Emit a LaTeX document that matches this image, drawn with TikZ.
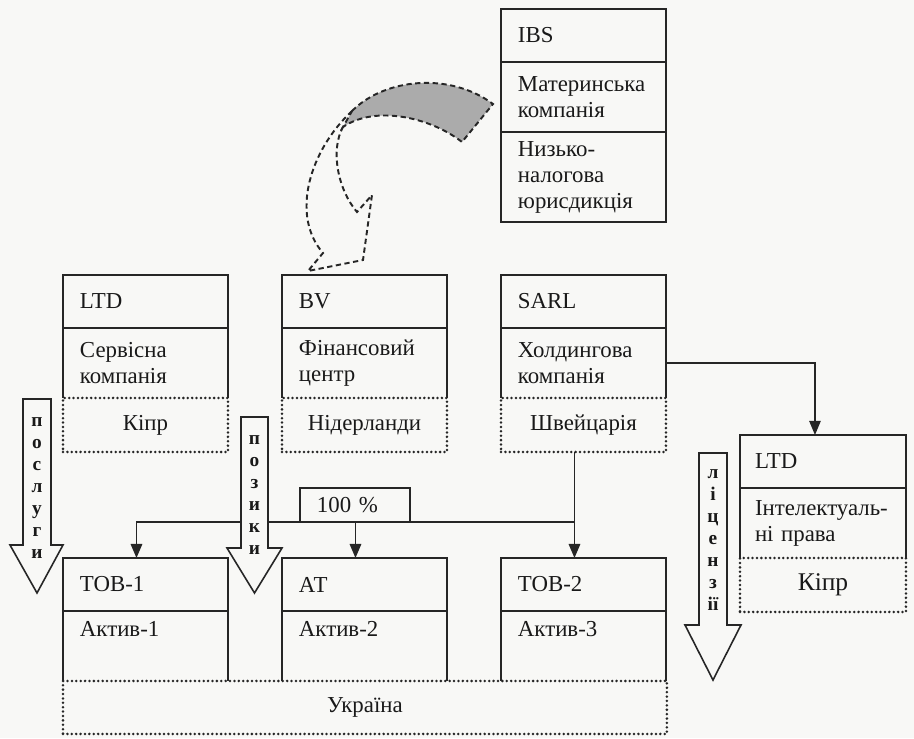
\documentclass[tikz,border=0pt]{standalone}
\usepackage{fontspec}
\setmainfont{Liberation Serif}
\usetikzlibrary{arrows.meta, positioning}
\definecolor{cline}{HTML}{262626}
\definecolor{cband}{HTML}{ababab}
\definecolor{cpaper}{HTML}{f8f8f6}

\begin{document}
\begin{tikzpicture}[
  x=0.02cm, y=-0.02cm,
  font=\fontsize{13}{14.8}\selectfont, text=black!90,
  >={Triangle[length=8pt, width=6.5pt]},
  frame/.style={draw=cline, line width=1pt},
  hdr/.style={frame, outer sep=0pt, inner xsep=0.34cm, text width=2.62cm,
              align=left, minimum height=1.06cm},
  mid/.style={outer sep=0pt, inner xsep=0.34cm, text width=2.62cm,
              align=left, minimum height=1.4cm},
  cty/.style={draw=cline, line width=1.6pt, line cap=round,
              dash pattern=on 0pt off 2.5pt, outer sep=0pt,
              minimum width=3.3cm, minimum height=1.08cm, align=center},
  arr/.style={->, draw=cline, line width=1.1pt},
  fat/.style={draw=cline, line width=0.9pt, fill=cpaper},
  letters/.style={font=\fontsize{11}{12.6}\selectfont\bfseries, align=center,
                  inner sep=0pt},
  swoosh/.style={draw=cline, line width=1.1pt, dash pattern=on 3pt off 2pt},
  ]
\fill[cpaper] (0,0) rectangle (914,738);
\useasboundingbox (0,0) rectangle (914,738);

% parent company
\node[hdr, anchor=north west] (ibsH) at (501,9) {IBS};
\node[mid, frame, below=0pt of ibsH] (ibsM) {Материнська\\компанія};
\node[mid, frame, minimum height=1.8cm, below=0pt of ibsM] (ibsJ) {Низько-\\налогова\\юрисдикція};

% foreign companies
\node[hdr, anchor=north west] (ltd1H) at (63,275) {LTD};
\node[mid, below=0pt of ltd1H] (ltd1M) {Сервісна\\компанія};
\node[cty, below=0pt of ltd1M] (ltd1C) {Кіпр};

\node[hdr, anchor=north west] (bvH) at (282,275) {BV};
\node[mid, below=0pt of bvH] (bvM) {Фінансовий\\центр};
\node[cty, below=0pt of bvM] (bvC) {Нідерланди};

\node[hdr, anchor=north west] (sarlH) at (501,275) {SARL};
\node[mid, below=0pt of sarlH] (sarlM) {Холдингова\\компанія};
\node[cty, below=0pt of sarlM] (sarlC) {Швейцарія};

\node[hdr, anchor=north west, text width=2.72cm, inner xsep=0.3cm] (ltd2H) at (740,435) {LTD};
\node[mid, text width=2.72cm, inner xsep=0.3cm, below=0pt of ltd2H] (ltd2M) {Інтелектуаль-\\ні права};
\node[cty, minimum width=3.32cm, font=\fontsize{14.5}{17}\selectfont, below=0pt of ltd2M] (ltd2C) {Кіпр};

% ukrainian companies
\node[hdr, anchor=north west] (tov1H) at (63,558) {ТОВ-1};
\node[mid, below=0pt of tov1H] (tov1M) {Актив-1\\\strut};

\node[hdr, anchor=north west] (atH) at (282,558) {АТ};
\node[mid, below=0pt of atH] (atM) {Актив-2\\\strut};

\node[hdr, anchor=north west] (tov2H) at (501,558) {ТОВ-2};
\node[mid, below=0pt of tov2H] (tov2M) {Актив-3\\\strut};

\node[cty, minimum width=12.08cm, minimum height=1.06cm, anchor=north west] (ukr) at (tov1M.south west) {Україна};

% side walls of the middle rows
\draw[frame] (ltd1M.south west) |- (ltd1M.north east) -- (ltd1M.south east);
\draw[frame] (bvM.south west) |- (bvM.north east) -- (bvM.south east);
\draw[frame] (sarlM.south west) |- (sarlM.north east) -- (sarlM.south east);
\draw[frame] (ltd2M.south west) |- (ltd2M.north east) -- (ltd2M.south east);
\draw[frame] (tov1M.south west) |- (tov1M.north east) -- (tov1M.south east);
\draw[frame] (atM.south west) |- (atM.north east) -- (atM.south east);
\draw[frame] (tov2M.south west) |- (tov2M.north east) -- (tov2M.south east);

% ownership
\node[frame, anchor=south west, outer sep=0pt, inner xsep=0.34cm, text width=1.52cm,
      align=left, minimum height=0.68cm] (pct) at (300,522) {100 \%};
\path ([xshift=-0.18cm]sarlC.south) coordinate (sDrop);
\path ([xshift=-0.18cm]tov1H.north) coordinate (t1In);
\path ([xshift=-0.18cm]atH.north) coordinate (atIn);
\draw[arr] (sDrop) -- (sDrop |- tov2H.north);
\draw[arr] (sDrop |- pct.south) -| (t1In);
\draw[arr] (atIn |- pct.south) -- (atIn);
\draw[arr, line width=0.7pt] (sarlM.east) -| ([xshift=-0.16cm]ltd2H.north);

% flows
\draw[fat] (23,399) -- (23,545) -- (10,545) -- (37,593) -- (63,545) -- (51,545) -- (51,399) -- cycle;
\node[letters] (poslugy) at (37,488) {п\\о\\с\\л\\у\\г\\и};
\draw[fat] (241,417) -- (241,548) -- (227,548) -- (254.5,593) -- (282,548) -- (268,548) -- (268,417) -- cycle;
\node[letters] (pozyky) at (254.5,495) {п\\о\\з\\и\\к\\и};
\draw[fat] (699,453) -- (699,625) -- (685,625) -- (713,680) -- (741,625) -- (727,625) -- (727,453) -- cycle;
\node[letters] (litsenzii) at (713,540) {л\\і\\ц\\е\\н\\з\\ії};

% curved arrow from the parent
\fill[cband] (352,111) .. controls (385,78) and (450,72) .. (493,104) -- (462,142)
  .. controls (430,117) and (375,105) .. (343,127) -- cycle;
\draw[swoosh] (352,111) .. controls (385,78) and (450,72) .. (493,104) -- (462,142)
  .. controls (430,117) and (375,105) .. (343,127) -- cycle;
\draw[swoosh] (352,111) .. controls (310,150) and (290,215) .. (323,253) -- (308,271)
  -- (363,260) -- (372,195) -- (357,212) .. controls (338,190) and (330,150) .. (343,127);
\end{tikzpicture}
\end{document}
